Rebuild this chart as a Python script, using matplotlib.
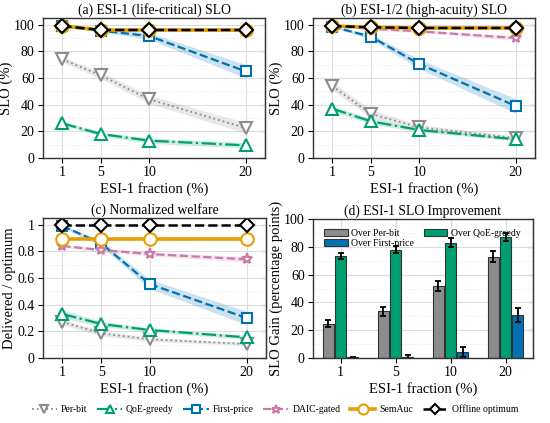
import numpy as np
import matplotlib
matplotlib.use("Agg")
import matplotlib.pyplot as plt
from matplotlib.ticker import MultipleLocator

plt.rcParams['font.family'] = ['Liberation Serif', 'DejaVu Serif']
plt.rcParams['mathtext.fontset'] = 'stix'

# ---- data ----
frac = [1, 5, 10, 20]
methods = ["Per-bit", "QoE-greedy", "First-price", "DAIC-gated", "SemAuc", "Offline optimum"]

# (a) ESI-1 SLO (%)
a_perbit = [74, 62, 44, 22.5]
a_qoe = [26, 18, 13, 9.5]
a_first = [99, 95.5, 91.5, 65]
a_daic = [99, 96, 96, 95.5]
a_semauc = [99, 96, 96, 96]
a_offline = [99, 96, 96, 96]
a_perbit_sd = [2, 2.5, 3, 4]
a_qoe_sd = [1.5, 1.5, 2, 2]
a_first_sd = [0.5, 1, 2.5, 5]
a_daic_sd = [0.5, 0.5, 0.5, 0.5]

# (b) ESI-1/2 SLO (%)
b_perbit = [54, 33, 23, 15]
b_qoe = [37, 27.5, 21, 14]
b_first = [98.5, 91, 70.5, 39]
b_daic = [99, 97, 95, 90]
b_semauc = [99, 98, 97.5, 97.5]
b_offline = [99, 98, 97.5, 97.5]
b_perbit_sd = [3, 3, 2, 1.5]
b_qoe_sd = [2, 2, 1.5, 1]
b_first_sd = [0.5, 2, 3.5, 5.5]
b_daic_sd = [0.5, 1, 1, 1.5]

# (c) normalized welfare
c_perbit = [0.27, 0.185, 0.14, 0.105]
c_qoe = [0.33, 0.255, 0.21, 0.155]
c_first = [0.99, 0.86, 0.555, 0.30]
c_daic = [0.84, 0.81, 0.78, 0.74]
c_semauc = [0.89, 0.89, 0.89, 0.89]
c_offline = [1.0, 1.0, 1.0, 1.0]
c_perbit_sd = [0.02, 0.02, 0.015, 0.01]
c_qoe_sd = [0.03, 0.02, 0.015, 0.015]
c_first_sd = [0.01, 0.02, 0.035, 0.05]
c_daic_sd = [0.01, 0.015, 0.015, 0.02]

# (d) SLO gain (percentage points)
d_perbit = [24.5, 33.5, 52, 73]
d_qoe = [73.5, 78, 83, 87]
d_first = [0.5, 1, 4.5, 31]
d_perbit_err = [2.5, 3, 3.5, 4]
d_qoe_err = [2, 2.5, 3, 3]
d_first_err = [0.5, 1.5, 3.5, 5]

colors = {"Per-bit": "#8c8c8c", "QoE-greedy": "#009E73", "First-price": "#0072B2",
          "DAIC-gated": "#CC79A7", "SemAuc": "#E69F00", "Offline optimum": "black"}
styles = {"Per-bit": (":", "v", 1.3, 8), "QoE-greedy": ("-.", "^", 1.6, 8),
          "First-price": ("--", "s", 1.6, 7), "DAIC-gated": ("--", "*", 1.6, 8),
          "SemAuc": ("-", "o", 2.6, 9), "Offline optimum": ("--", "D", 1.8, 7)}

fig = plt.figure(figsize=(5.5, 4.23), dpi=100)
W, H = 550.0, 423.0
LBL = 10.5
TTL = 9.8
TCK = 10


def make_ax(l, r, t, b):
    return fig.add_axes([l / W, 1 - b / H, (r - l) / W, (b - t) / H])


def style_ax(ax, ymax, major, minor):
    ax.set_ylim(0, ymax)
    ax.yaxis.set_major_locator(MultipleLocator(major))
    ax.yaxis.set_minor_locator(MultipleLocator(minor))
    ax.grid(True, which='major', color='#dddddd', lw=0.8)
    ax.grid(True, which='minor', axis='y', color='#e6e6e6', lw=0.6, ls=':')
    ax.set_axisbelow(True)
    ax.tick_params(which='both', direction='out', labelsize=TCK, length=3.5, width=0.8,
                   pad=2.5)
    ax.tick_params(which='minor', length=0)
    for s in ax.spines.values():
        s.set_color('#333333')
        s.set_linewidth(1.0)
    sec = ax.secondary_yaxis('right')
    sec.yaxis.set_major_locator(MultipleLocator(major))
    sec.tick_params(direction='in', labelright=False, length=3.5, width=0.8)
    sec.spines['right'].set_color('#333333')


def line_panel(ax, series, sds):
    handles = []
    for name, y in zip(methods, series):
        ls, mk, lw, ms = styles[name]
        c = colors[name]
        y = np.array(y)
        if name in sds:
            sd = np.array(sds[name])
            ax.fill_between(frac, y - sd, y + sd, color=c, alpha=0.2, lw=0)
        h, = ax.plot(frac, y, ls=ls, marker=mk, color=c, lw=lw, ms=ms,
                     mfc='white', mec=c, mew=1.5, label=name)
        handles.append(h)
    ax.set_xlim(-1, 22)
    ax.set_xticks(frac)
    ax.set_xlabel("ESI-1 fraction (%)", fontsize=LBL, labelpad=2)
    return handles


ax_a = make_ax(43, 265, 18, 158)
handles = line_panel(ax_a, [a_perbit, a_qoe, a_first, a_daic, a_semauc, a_offline],
                     {"Per-bit": a_perbit_sd, "QoE-greedy": a_qoe_sd,
                      "First-price": a_first_sd, "DAIC-gated": a_daic_sd})
style_ax(ax_a, 105, 20, 10)
ax_a.set_ylabel("SLO (%)", fontsize=LBL, labelpad=1)
ax_a.set_title("(a) ESI-1 (life-critical) SLO", fontsize=TTL, pad=3)

ax_b = make_ax(313, 535, 18, 158)
line_panel(ax_b, [b_perbit, b_qoe, b_first, b_daic, b_semauc, b_offline],
           {"Per-bit": b_perbit_sd, "QoE-greedy": b_qoe_sd,
            "First-price": b_first_sd, "DAIC-gated": b_daic_sd})
style_ax(ax_b, 105, 20, 10)
ax_b.set_ylabel("SLO (%)", fontsize=LBL, labelpad=1)
ax_b.set_title("(b) ESI-1/2 (high-acuity) SLO", fontsize=TTL, pad=3)

ax_c = make_ax(43, 266, 218, 358)
line_panel(ax_c, [c_perbit, c_qoe, c_first, c_daic, c_semauc, c_offline],
           {"Per-bit": c_perbit_sd, "QoE-greedy": c_qoe_sd,
            "First-price": c_first_sd, "DAIC-gated": c_daic_sd})
style_ax(ax_c, 1.05, 0.2, 0.1)
ax_c.set_yticks([0, 0.2, 0.4, 0.6, 0.8, 1.0])
ax_c.set_yticklabels(["0", "0.2", "0.4", "0.6", "0.8", "1"])
ax_c.set_ylabel("Delivered / optimum", fontsize=LBL, labelpad=1)
ax_c.set_title("(c) Normalized welfare", fontsize=TTL, pad=3)

# (d) grouped bars
ax_d = make_ax(313, 533, 219, 358)
pos = np.arange(len(frac))
bw = 0.19
off = 0.22
ekw = dict(ecolor='black', elinewidth=1.3, capsize=2.5, capthick=1.3)
b1 = ax_d.bar(pos - off, d_perbit, bw, yerr=d_perbit_err, color='#8c8c8c',
              edgecolor='#333333', lw=0.8, error_kw=ekw, label="Over Per-bit")
b2 = ax_d.bar(pos, d_qoe, bw, yerr=d_qoe_err, color='#009E73',
              edgecolor='#333333', lw=0.8, error_kw=ekw, label="Over QoE-greedy")
b3 = ax_d.bar(pos + off, d_first, bw, yerr=d_first_err, color='#0072B2',
              edgecolor='#333333', lw=0.8, error_kw=ekw, label="Over First-price")
ax_d.set_xlim(-0.5, 3.5)
ax_d.set_xticks(pos)
ax_d.set_xticklabels([str(f) for f in frac])
style_ax(ax_d, 100, 20, 10)
ax_d.set_xlabel("ESI-1 fraction (%)", fontsize=LBL, labelpad=2)
ax_d.set_ylabel("SLO Gain (percentage points)", fontsize=LBL, labelpad=1)
ax_d.set_title("(d) ESI-1 SLO Improvement", fontsize=TTL, pad=3)
ax_d.legend([b1, b3, b2], ["Over Per-bit", "Over First-price", "Over QoE-greedy"],
            ncol=2, loc='upper left', fontsize=7, frameon=False,
            handlelength=2.4, handleheight=0.8, columnspacing=1.0,
            labelspacing=0.1, handletextpad=0.4, borderaxespad=0.3,
            bbox_to_anchor=(0.02, 0.98))

fig.legend(handles, methods, loc='lower center', bbox_to_anchor=(0.5, 0.0),
           ncol=6, frameon=False, fontsize=7, handlelength=2.6,
           columnspacing=1.0, handletextpad=0.4, markerscale=0.8)

fig.savefig("out.png", dpi=100)
